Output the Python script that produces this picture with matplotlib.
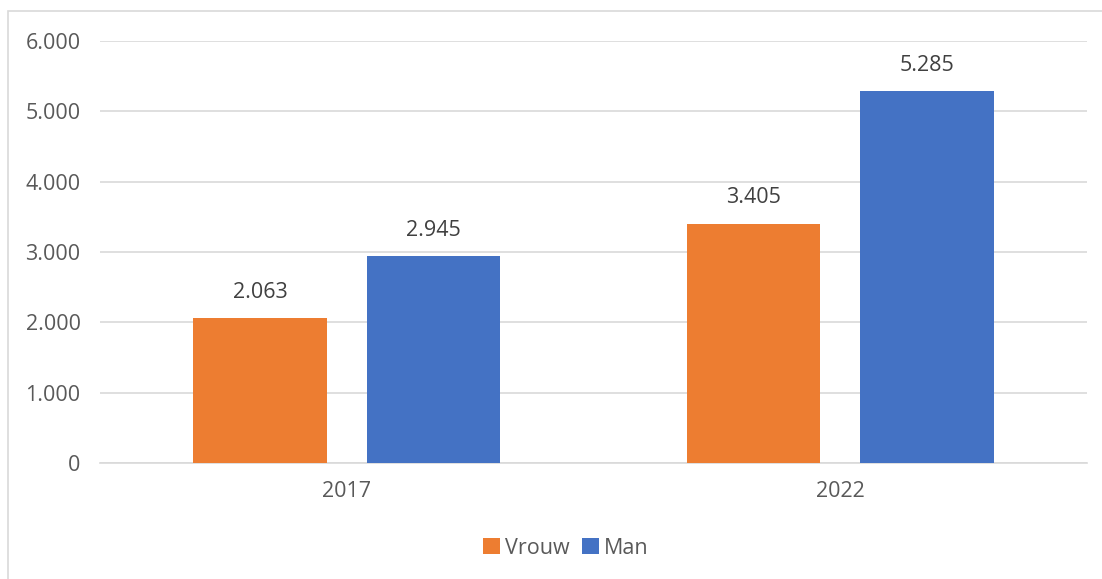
import matplotlib
matplotlib.use("Agg")
import matplotlib.pyplot as plt
import numpy as np
from matplotlib.patches import Rectangle

categories = ["2017", "2022"]
series_names = ["Vrouw", "Man"]
vrouw = [2063, 3405]
man = [2945, 5285]
yticks = [0, 1000, 2000, 3000, 4000, 5000, 6000]

def fmt(v):
    return f"{v:,}".replace(",", ".")

plt.rcParams['font.family'] = ['Open Sans', 'DejaVu Sans']
txt = '#595959'
fs = 15.5
fig = plt.figure(figsize=(11.02, 5.79), dpi=100)
ax = fig.add_axes([100/1102, 1-463/579, 987/1102, 422/579])

x = np.arange(len(categories))
w = 0.27
off = 0.176
b1 = ax.bar(x - off, vrouw, w, color='#ED7D31', label=series_names[0], zorder=3)
b2 = ax.bar(x + off, man, w, color='#4472C4', label=series_names[1], zorder=3)
for bars, vals in ((b1, vrouw), (b2, man)):
    for r, v in zip(bars, vals):
        ax.annotate(fmt(v), (r.get_x() + r.get_width()/2, v), xytext=(0, 11),
                    textcoords='offset points', ha='center', va='bottom',
                    fontsize=fs, color='#404040')

ax.set_xlim(-0.5, 1.5)
ax.set_ylim(0, 6000)
ax.set_yticks(yticks)
ax.set_yticklabels([fmt(v) for v in yticks])
ax.set_xticks(x)
ax.set_xticklabels(categories)
ax.tick_params(axis='both', length=0, labelsize=fs, colors=txt)
ax.tick_params(axis='y', pad=14)
ax.tick_params(axis='x', pad=13)
ax.grid(axis='y', color='#D9D9D9', linewidth=1.2, zorder=0)
for s in ['top', 'right', 'left']:
    ax.spines[s].set_visible(False)
ax.spines['bottom'].set_color('#D9D9D9')
ax.spines['bottom'].set_linewidth(1.2)

leg = fig.legend(loc='center', bbox_to_anchor=(566/1102, 1-548/579), ncol=2, frameon=False,
                 fontsize=fs, handlelength=0.75, handleheight=0.75, handletextpad=0.25,
                 columnspacing=0.6, labelcolor=txt)

fig.patches.append(Rectangle((8/1102, -0.1), 1.2, 1 - 11/579 + 0.1, transform=fig.transFigure,
                             fill=False, edgecolor='#D9D9D9', linewidth=1.2))

fig.savefig('out.png', dpi=100)
